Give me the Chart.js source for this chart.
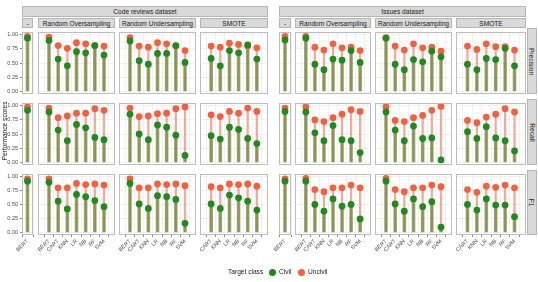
<!DOCTYPE html>
<html>
<head>
<meta charset="utf-8">
<script src="https://cdn.jsdelivr.net/npm/chart.js@4"></script>
<style>
  body { margin: 0; width: 538px; height: 282px; background: #fff; position: relative; overflow: hidden;
         font-family: "Liberation Sans", Arial, sans-serif; }
  canvas { position: absolute; }
  .strip { position: absolute; background: #d9d9d9; border: 1px solid #b5b5b5; box-sizing: border-box;
           color: #1a1a1a; font-size: 6.6px; display: flex; align-items: center; justify-content: center;
           white-space: nowrap; }
  .vtext { transform: rotate(90deg); }
  .lbl { position: absolute; white-space: nowrap; color: #1a1a1a; font-size: 6.6px; line-height: 8px; }
  .dot { position: absolute; width: 7px; height: 7px; border-radius: 50%; }
</style>
</head>
<body>
<script>
// facets
const DATASETS = ["Code reviews dataset", "Issues dataset"];
const METHODS = ["-", "Random Oversampling", "Random Undersampling", "SMOTE"];
const METRICS = ["Precision", "Recall", "F1"];

// models shown in each method panel
const MODELS_BERT = ["BERT"];
const MODELS_ALL = ["BERT", "CART", "KNN", "LR", "NB", "RF", "SVM"];
const MODELS_SMOTE = ["CART", "KNN", "LR", "NB", "RF", "SVM"];
const METHOD_MODELS = [MODELS_BERT, MODELS_ALL, MODELS_ALL, MODELS_SMOTE];

// scores, in order: "-" | Random Oversampling | Random Undersampling | SMOTE
const crPrecisionCivil   = [0.94, 0.90, 0.57, 0.45, 0.70, 0.68, 0.81, 0.64, 0.89, 0.54, 0.48, 0.67, 0.67, 0.81, 0.51, 0.58, 0.45, 0.72, 0.68, 0.82, 0.57];
const crPrecisionUncivil = [0.97, 0.96, 0.81, 0.76, 0.86, 0.84, 0.81, 0.80, 0.95, 0.80, 0.78, 0.86, 0.84, 0.80, 0.72, 0.80, 0.78, 0.85, 0.83, 0.80, 0.77];
const crRecallCivil      = [0.92, 0.89, 0.57, 0.38, 0.67, 0.61, 0.44, 0.40, 0.85, 0.50, 0.40, 0.66, 0.62, 0.48, 0.12, 0.47, 0.41, 0.62, 0.58, 0.42, 0.33];
const crRecallUncivil    = [0.98, 0.96, 0.79, 0.82, 0.87, 0.87, 0.95, 0.92, 0.96, 0.81, 0.82, 0.86, 0.87, 0.95, 0.98, 0.84, 0.81, 0.90, 0.87, 0.96, 0.90];
const crF1Civil          = [0.92, 0.90, 0.56, 0.42, 0.68, 0.64, 0.57, 0.46, 0.88, 0.51, 0.43, 0.66, 0.64, 0.59, 0.16, 0.51, 0.43, 0.67, 0.62, 0.56, 0.40];
const crF1Uncivil        = [0.96, 0.96, 0.80, 0.80, 0.88, 0.86, 0.87, 0.85, 0.96, 0.80, 0.80, 0.87, 0.86, 0.87, 0.84, 0.82, 0.80, 0.87, 0.86, 0.87, 0.83];

const isPrecisionCivil   = [0.91, 0.94, 0.48, 0.38, 0.57, 0.55, 0.72, 0.51, 0.94, 0.48, 0.38, 0.56, 0.52, 0.71, 0.61, 0.48, 0.38, 0.58, 0.56, 0.76, 0.45];
const isPrecisionUncivil = [0.97, 0.97, 0.78, 0.73, 0.84, 0.77, 0.78, 0.72, 0.95, 0.80, 0.73, 0.84, 0.77, 0.78, 0.71, 0.80, 0.74, 0.84, 0.79, 0.79, 0.73];
const isRecallCivil      = [0.90, 0.89, 0.52, 0.38, 0.65, 0.40, 0.38, 0.17, 0.89, 0.57, 0.38, 0.64, 0.42, 0.43, 0.04, 0.54, 0.42, 0.63, 0.43, 0.38, 0.20];
const isRecallUncivil    = [0.96, 0.98, 0.75, 0.72, 0.79, 0.85, 0.93, 0.90, 0.98, 0.74, 0.72, 0.79, 0.83, 0.92, 0.99, 0.74, 0.70, 0.80, 0.85, 0.95, 0.89];
const isF1Civil          = [0.92, 0.92, 0.50, 0.38, 0.60, 0.47, 0.50, 0.24, 0.92, 0.51, 0.38, 0.60, 0.46, 0.55, 0.09, 0.50, 0.40, 0.60, 0.49, 0.49, 0.28];
const isF1Uncivil        = [0.96, 0.97, 0.77, 0.73, 0.80, 0.80, 0.85, 0.80, 0.97, 0.77, 0.73, 0.80, 0.80, 0.85, 0.82, 0.77, 0.72, 0.83, 0.81, 0.85, 0.80];

const CIVIL = [[crPrecisionCivil, crRecallCivil, crF1Civil], [isPrecisionCivil, isRecallCivil, isF1Civil]];
const UNCIVIL = [[crPrecisionUncivil, crRecallUncivil, crF1Uncivil], [isPrecisionUncivil, isRecallUncivil, isF1Uncivil]];

const Y_TICKS = [0, 0.125, 0.25, 0.375, 0.5, 0.625, 0.75, 0.875, 1];

// layout (px)
const COLS = [
  { x: 22, w: 11 }, { x: 38, w: 77 }, { x: 119, w: 77 }, { x: 200, w: 68 },
  { x: 279, w: 12 }, { x: 295, w: 76 }, { x: 375, w: 77 }, { x: 456, w: 70 }
];
const ROWS = [{ y: 28, h: 66 }, { y: 99, h: 66 }, { y: 170, h: 65 }];

const COL_CIVIL = "#23891f";
const COL_UNCIVIL = "#f3603f";
const FONT = '"Liberation Sans", Arial, sans-serif';

const framePlugin = {
  id: "frame",
  afterDraw(chart) {
    const a = chart.chartArea, ctx = chart.ctx;
    ctx.save();
    ctx.strokeStyle = "#bdbdbd";
    ctx.lineWidth = 1;
    ctx.strokeRect(Math.round(a.left) + 0.5, Math.round(a.top) + 0.5,
                   Math.round(a.right - a.left) - 1, Math.round(a.bottom - a.top) - 1);
    ctx.restore();
  }
};

function addDiv(cls, x, y, w, h, html) {
  const d = document.createElement("div");
  d.className = cls;
  d.style.left = x + "px";
  d.style.top = y + "px";
  if (w != null) d.style.width = w + "px";
  if (h != null) d.style.height = h + "px";
  d.innerHTML = html;
  document.body.appendChild(d);
  return d;
}

function makePanel(col, row, cats, civ, unc, showY, showX) {
  const L = 20, R = 6, B = 26;
  const w = col.w + L + R, h = row.h + B;
  const canvas = document.createElement("canvas");
  canvas.width = w; canvas.height = h;
  canvas.style.width = w + "px"; canvas.style.height = h + "px";
  canvas.style.left = (col.x - L) + "px";
  canvas.style.top = row.y + "px";
  document.body.appendChild(canvas);

  const civPts = cats.map((c, i) => ({ x: i, y: civ[i] }));
  const uncPts = cats.map((c, i) => ({ x: i, y: unc[i] }));

  new Chart(canvas, {
    type: "bar",
    data: {
      datasets: [
        { type: "line", data: civPts, showLine: false, pointRadius: 3.4, pointBorderWidth: 0,
          pointBackgroundColor: COL_CIVIL, order: 0 },
        { type: "line", data: uncPts, showLine: false, pointRadius: 3.4, pointBorderWidth: 0,
          pointBackgroundColor: COL_UNCIVIL, order: 1 },
        { type: "bar", data: civPts, barThickness: 3, grouped: false,
          backgroundColor: "rgba(70,125,30,0.55)", order: 2 },
        { type: "bar", data: uncPts, barThickness: 1.6, grouped: false,
          backgroundColor: "rgba(243,96,63,0.55)", order: 3 }
      ]
    },
    options: {
      responsive: false,
      animation: false,
      devicePixelRatio: 1,
      events: [],
      layout: { padding: { left: showY ? 0 : L, right: R, top: 0, bottom: showX ? 0 : B } },
      plugins: { legend: { display: false }, tooltip: { enabled: false } },
      scales: {
        x: {
          type: "linear",
          min: -0.6,
          max: cats.length - 0.4,
          afterBuildTicks: s => { s.ticks = cats.map((c, i) => ({ value: i })); },
          afterFit: s => { s.height = showX ? B : 0; s.paddingLeft = 0; s.paddingRight = 0; },
          ticks: {
            display: showX, autoSkip: false, minRotation: 45, maxRotation: 45, padding: 1,
            callback: v => cats[v], color: "#4d4d4d", font: { family: FONT, size: 5.5 }
          },
          grid: { color: "#ebebeb", lineWidth: 0.7, drawTicks: showX, tickLength: 2, tickColor: "#555" },
          border: { display: false }
        },
        y: {
          min: -0.05,
          max: 1.05,
          afterBuildTicks: s => { s.ticks = Y_TICKS.map(v => ({ value: v })); },
          afterFit: s => { s.width = showY ? L : 0; s.paddingTop = 0; s.paddingBottom = 0; },
          ticks: {
            display: showY, padding: 2, color: "#4d4d4d", font: { family: FONT, size: 5.5 },
            callback: v => (Math.round(v * 8) % 2 === 0 ? v.toFixed(2) : "")
          },
          grid: {
            color: c => (Math.round(c.tick.value * 8) % 2 === 0 ? "#ebebeb" : "#f4f4f4"),
            lineWidth: c => (Math.round(c.tick.value * 8) % 2 === 0 ? 0.7 : 0.4),
            drawTicks: showY, tickLength: 2,
            tickColor: c => (Math.round(c.tick.value * 8) % 2 === 0 ? "#555" : "rgba(0,0,0,0)")
          },
          border: { display: false }
        }
      }
    },
    plugins: [framePlugin]
  });
}

// panels
DATASETS.forEach((ds, d) => {
  METRICS.forEach((m, r) => {
    let start = 0;
    METHODS.forEach((meth, k) => {
      const cats = METHOD_MODELS[k];
      const civ = CIVIL[d][r].slice(start, start + cats.length);
      const unc = UNCIVIL[d][r].slice(start, start + cats.length);
      start += cats.length;
      makePanel(COLS[d * 4 + k], ROWS[r], cats, civ, unc, d === 0 && k === 0, r === ROWS.length - 1);
    });
  });
});

// strips
DATASETS.forEach((ds, d) => {
  const first = COLS[d * 4], last = COLS[d * 4 + 3];
  addDiv("strip", first.x, 6, last.x + last.w - first.x, 11, ds);
  METHODS.forEach((meth, k) => {
    const c = COLS[d * 4 + k];
    addDiv("strip", c.x, 18, c.w, 10, meth);
  });
});
METRICS.forEach((m, r) => {
  addDiv("strip", 527, ROWS[r].y, 10, ROWS[r].h, '<span class="vtext">' + m + "</span>");
});

// axis title: fixed box centred on (5, 131), rotated
const yt = addDiv("lbl", 5 - 40, 131 - 4, 80, 8, "Performance scores");
yt.style.textAlign = "center";
yt.style.transform = "rotate(-90deg)";

// legend
addDiv("lbl", 228, 268, null, null, "Target class");
const d1 = addDiv("dot", 268.5, 268.5, null, null, "");
d1.style.background = COL_CIVIL;
addDiv("lbl", 279, 268, null, null, "Civil");
const d2 = addDiv("dot", 297.5, 268.5, null, null, "");
d2.style.background = COL_UNCIVIL;
addDiv("lbl", 308, 268, null, null, "Uncivil");
</script>
</body>
</html>
